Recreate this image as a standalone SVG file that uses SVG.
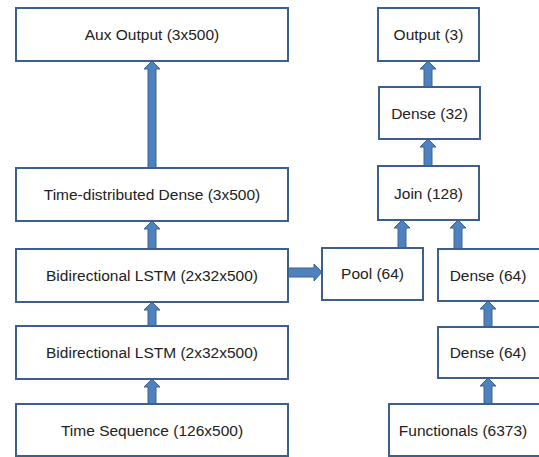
<svg xmlns="http://www.w3.org/2000/svg" width="539" height="457" viewBox="0 0 539 457" xml:space="preserve">
<style>
.box{fill:#fff;stroke:#3d5f8c;stroke-width:2}
.lbl{font-family:"Liberation Sans",Arial,sans-serif;font-size:15.5px;fill:#222;text-anchor:middle}
.arr{fill:#4f81bd;stroke:#3a6395;stroke-width:1}
</style>
<rect width="539" height="457" fill="#fff"/>
<g id="connectors">
<path class="arr" d="M152,61 L160,69 L156,69 L156,168 L148,168 L148,69 L144,69 Z"/>
<path class="arr" d="M152,221 L160,229 L156,229 L156,249 L148,249 L148,229 L144,229 Z"/>
<path class="arr" d="M152,302 L160,310 L156,310 L156,326 L148,326 L148,310 L144,310 Z"/>
<path class="arr" d="M152,379 L160,387 L156,387 L156,404 L148,404 L148,387 L144,387 Z"/>
<path class="arr" d="M428,61 L436,69 L432,69 L432,87 L424,87 L424,69 L420,69 Z"/>
<path class="arr" d="M428,139 L436,147 L432,147 L432,166 L424,166 L424,147 L420,147 Z"/>
<path class="arr" d="M402,220 L410,228 L406,228 L406,248 L398,248 L398,228 L394,228 Z"/>
<path class="arr" d="M458,220 L466,228 L462,228 L462,249 L454,249 L454,228 L450,228 Z"/>
<path class="arr" d="M488,301 L496,309 L492,309 L492,327 L484,327 L484,309 L480,309 Z"/>
<path class="arr" d="M488,378 L496,386 L492,386 L492,404 L484,404 L484,386 L480,386 Z"/>
<path class="arr" d="M322,272 L314,264 L314,268 L288,268 L288,277 L314,277 L314,281 Z"/>
</g>
<g id="aux-output"><rect class="box" x="16" y="8" width="272" height="53"/><text class="lbl" x="152" y="40">Aux Output (3x500)</text></g>
<g id="td-dense"><rect class="box" x="16" y="168" width="272" height="53"/><text class="lbl" x="152" y="200">Time-distributed  Dense (3x500)</text></g>
<g id="bilstm-1"><rect class="box" x="16" y="249" width="272" height="53"/><text class="lbl" x="152" y="281">Bidirectional  LSTM (2x32x500)</text></g>
<g id="bilstm-2"><rect class="box" x="16" y="326" width="272" height="53"/><text class="lbl" x="152" y="358">Bidirectional  LSTM (2x32x500)</text></g>
<g id="time-seq"><rect class="box" x="16" y="404" width="272" height="52"/><text class="lbl" x="152" y="435.5">Time Sequence (126x500)</text></g>
<g id="output"><rect class="box" x="378" y="8" width="101" height="53"/><text class="lbl" x="428.5" y="40">Output (3)</text></g>
<g id="dense-32"><rect class="box" x="379" y="87" width="101" height="52"/><text class="lbl" x="429.5" y="118.5">Dense  (32)</text></g>
<g id="join"><rect class="box" x="378" y="166" width="101" height="54"/><text class="lbl" x="428.5" y="198.5">Join (128)</text></g>
<g id="pool"><rect class="box" x="322" y="248" width="101" height="52"/><text class="lbl" x="372.5" y="279">Pool (64)</text></g>
<g id="dense-64a"><rect class="box" x="438" y="249" width="104" height="52"/><text class="lbl" x="488" y="280.5">Dense  (64)</text></g>
<g id="dense-64b"><rect class="box" x="438" y="327" width="104" height="51"/><text class="lbl" x="488" y="358">Dense  (64)</text></g>
<g id="functionals"><rect class="box" x="389" y="404" width="153" height="52"/><text class="lbl" x="463" y="435.5">Functionals (6373)</text></g>
</svg>
